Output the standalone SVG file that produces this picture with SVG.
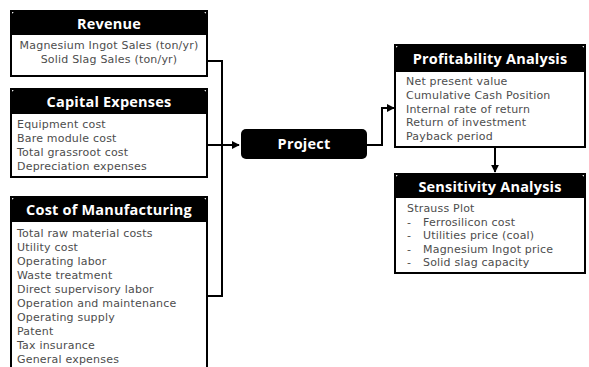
<svg xmlns="http://www.w3.org/2000/svg" width="589" height="367" viewBox="0 0 589 367">
<style>
.box{fill:#fff;stroke:#000;stroke-width:2}
.hdr{fill:#000}
.ht{font-family:"Open Sans","Liberation Sans",sans-serif;font-weight:700;font-size:14.5px;letter-spacing:0.2px;fill:#fff;text-anchor:middle}
.bt{font-family:"DejaVu Sans","Liberation Sans",sans-serif;font-size:11px;letter-spacing:0.2px;fill:#4d4d4d}
.c{fill:none;stroke:#000;stroke-width:2}
</style>
<defs>
<marker id="ah" viewBox="0 0 10 10" refX="9" refY="5" markerWidth="4" markerHeight="4" orient="auto" markerUnits="strokeWidth">
<path d="M0,0 L10,5 L0,10 z" fill="#000"/>
</marker>
</defs>
<g id="connectors">
<polyline class="c" points="207,61 222,61 222,296 207,296"/>
<polyline class="c" points="207,145 239,145" marker-end="url(#ah)"/>
<polyline class="c" points="367,145 382,145 382,108 394,108" marker-end="url(#ah)"/>
<polyline class="c" points="495,147 495,172" marker-end="url(#ah)"/>
</g>
<g id="revenue">
<rect class="box" x="11" y="11" width="196" height="65"/>
<path class="hdr" d="M11,35 V18 Q11,11 18,11 H200 Q207,11 207,18 V35 Z"/>
<text class="ht" x="109" y="29">Revenue</text>
<text class="bt" x="109" y="49" text-anchor="middle">Magnesium Ingot Sales (ton/yr)</text>
<text class="bt" x="109" y="63" text-anchor="middle">Solid Slag Sales (ton/yr)</text>
</g>
<g id="capital">
<rect class="box" x="11" y="89" width="196" height="88"/>
<path class="hdr" d="M11,114 V96 Q11,89 18,89 H200 Q207,89 207,96 V114 Z"/>
<text class="ht" x="109" y="107">Capital Expenses</text>
<text class="bt" x="17" y="128">Equipment cost</text>
<text class="bt" x="17" y="142">Bare module cost</text>
<text class="bt" x="17" y="156">Total grassroot cost</text>
<text class="bt" x="17" y="170">Depreciation expenses</text>
</g>
<g id="com">
<rect class="box" x="11" y="197" width="196" height="190"/>
<path class="hdr" d="M11,222 V204 Q11,197 18,197 H200 Q207,197 207,204 V222 Z"/>
<text class="ht" x="109" y="215">Cost of Manufacturing</text>
<text class="bt" x="17" y="237">Total raw material costs</text>
<text class="bt" x="17" y="251">Utility cost</text>
<text class="bt" x="17" y="265">Operating labor</text>
<text class="bt" x="17" y="279">Waste treatment</text>
<text class="bt" x="17" y="293">Direct supervisory labor</text>
<text class="bt" x="17" y="307">Operation and maintenance</text>
<text class="bt" x="17" y="321">Operating supply</text>
<text class="bt" x="17" y="335">Patent</text>
<text class="bt" x="17" y="349">Tax insurance</text>
<text class="bt" x="17" y="363">General expenses</text>
</g>
<g id="project">
<rect x="241" y="129" width="126" height="30" rx="5" fill="#000"/>
<text class="ht" x="304" y="149">Project</text>
</g>
<g id="profitability">
<rect class="box" x="395" y="45" width="190" height="102"/>
<path class="hdr" d="M395,72 V52 Q395,45 402,45 H578 Q585,45 585,52 V72 Z"/>
<text class="ht" x="490" y="64">Profitability Analysis</text>
<text class="bt" x="406" y="85">Net present value</text>
<text class="bt" x="406" y="99">Cumulative Cash Position</text>
<text class="bt" x="406" y="113">Internal rate of return</text>
<text class="bt" x="406" y="126">Return of investment</text>
<text class="bt" x="406" y="140">Payback period</text>
</g>
<g id="sensitivity">
<rect class="box" x="395" y="174" width="190" height="99"/>
<path class="hdr" d="M395,198 V181 Q395,174 402,174 H578 Q585,174 585,181 V198 Z"/>
<text class="ht" x="490" y="192">Sensitivity Analysis</text>
<text class="bt" x="407" y="212">Strauss Plot</text>
<text class="bt" x="407" y="226">-</text><text class="bt" x="423" y="226">Ferrosilicon cost</text>
<text class="bt" x="407" y="239">-</text><text class="bt" x="423" y="239">Utilities price (coal)</text>
<text class="bt" x="407" y="253">-</text><text class="bt" x="423" y="253">Magnesium Ingot price</text>
<text class="bt" x="407" y="266">-</text><text class="bt" x="423" y="266">Solid slag capacity</text>
</g>
</svg>
